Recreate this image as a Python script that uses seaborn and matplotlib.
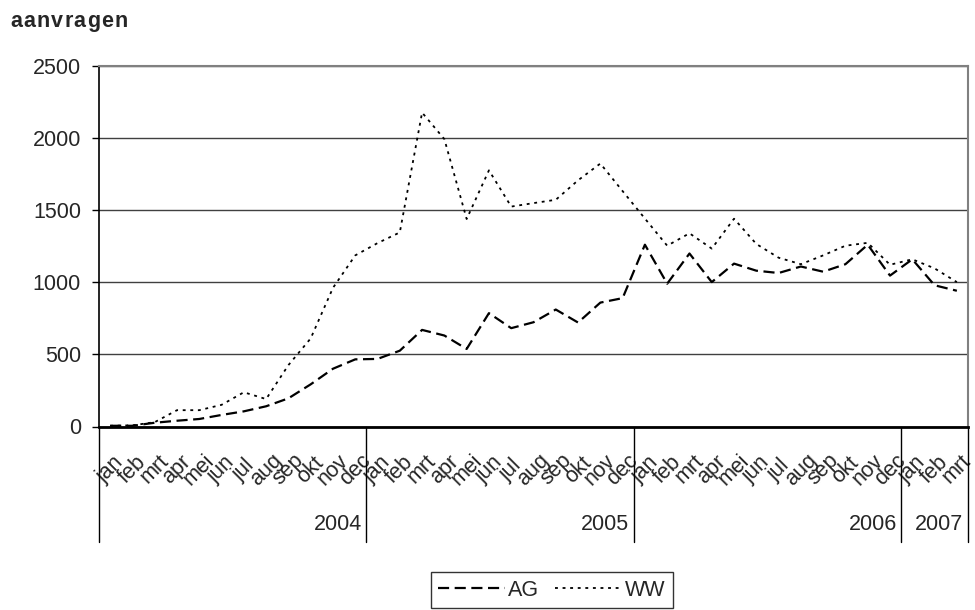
import matplotlib
matplotlib.use('Agg')
import matplotlib.pyplot as plt
import matplotlib.transforms as mtransforms
from matplotlib.lines import Line2D
from matplotlib.font_manager import FontProperties
import seaborn as sns
import pandas as pd
import numpy as np

# ---------------- data ----------------
months = ['jan', 'feb', 'mrt', 'apr', 'mei', 'jun', 'jul', 'aug', 'sep', 'okt', 'nov', 'dec']
month_labels = months * 3 + months[:3]
years = ['2004', '2005', '2006', '2007']
year_counts = [12, 12, 12, 3]

ag = [5, 5, 26, 40, 52, 80, 105, 140, 195, 292, 400, 465,
      468, 525, 669, 630, 537, 785, 681, 722, 810, 720, 858, 889,
      1259, 989, 1198, 1000, 1128, 1079, 1063, 1108, 1072, 1124, 1259, 1045,
      1158, 978, 940]
ww = [5, 8, 30, 113, 113, 150, 237, 190, 425, 610, 960, 1185,
      1270, 1344, 2174, 1990, 1437, 1774, 1523, 1547, 1570, 1705, 1821, 1630,
      1440, 1252, 1338, 1232, 1439, 1264, 1169, 1124, 1185, 1252, 1272, 1120,
      1158, 1095, 1000]
y_ticks = [0, 500, 1000, 1500, 2000, 2500]
title = 'aanvragen'
series_names = ['AG', 'WW']

# ---------------- style ----------------
sns.set_style('white')
plt.rcParams['font.family'] = ['Liberation Sans', 'DejaVu Sans']
FS = 15.5

W, H = 975, 610
fig = plt.figure(figsize=(W / 100, H / 100), dpi=100)
left, right, top, bottom = 99, 968, 65.5, 426.5
ax = fig.add_axes([left / W, 1 - bottom / H, (right - left) / W, (bottom - top) / H])

x = np.arange(len(month_labels))
df = pd.DataFrame({'x': x, 'AG': ag, 'WW': ww})

ag_style = (0, (5, 2.5))
ww_style = (0, (1.6, 2.6))
sns.lineplot(data=df, x='x', y='AG', ax=ax, color='black', lw=1.6,
             linestyle=ag_style, legend=False)
sns.lineplot(data=df, x='x', y='WW', ax=ax, color='black', lw=1.3,
             linestyle=ww_style, legend=False)

ax.set_xlim(-0.5, len(month_labels) - 0.5)
ax.set_ylim(0, 2500)
ax.set_xlabel('')
ax.set_ylabel('')

# y axis
ax.set_yticks(y_ticks)
ax.set_yticklabels([str(v) for v in y_ticks], fontsize=FS)
ax.tick_params(axis='y', left=True, length=5, width=1, pad=8, direction='out', color='black')
ax.yaxis.grid(True, color='#404040', lw=1)
ax.xaxis.grid(False)
ax.set_axisbelow(True)

# x axis
ax.set_xticks(x)
ax.set_xticklabels(month_labels, rotation=45, ha='center', va='center', fontsize=FS)
ax.tick_params(axis='x', bottom=False, length=0, pad=31)

ax.spines['left'].set_color('black'); ax.spines['left'].set_linewidth(1.2)
ax.spines['bottom'].set_color('black'); ax.spines['bottom'].set_linewidth(2)
for s in ['right', 'top']:
    ax.spines[s].set_color('#808080'); ax.spines[s].set_linewidth(1.5)

# year separators and labels
trans = mtransforms.blended_transform_factory(ax.transData, ax.transAxes)
sep_depth = (542 - bottom) / (bottom - top)
year_y = (525 - bottom) / (bottom - top)
bounds = np.concatenate([[0], np.cumsum(year_counts)]) - 0.5
for b in bounds:
    ax.plot([b, b], [0, -sep_depth], transform=trans, color='black', lw=1, clip_on=False)
for yr, b in zip(years, bounds[1:]):
    ax.text(b - 0.2, -year_y, yr, transform=trans, ha='right', va='center', fontsize=FS)

# title with slight letter spacing
renderer = fig.canvas.get_renderer()
fp = FontProperties(family=['Liberation Sans', 'DejaVu Sans'], weight='bold', size=FS)
x0, spacing = 10.0, 1.25
for i, ch in enumerate(title):
    w_prefix = renderer.get_text_width_height_descent(title[:i], fp, ismath=False)[0] if i else 0
    fig.text((x0 + w_prefix + i * spacing) / W, 1 - 26.7 / H, ch, fontproperties=fp,
             ha='left', va='baseline')

# legend
handles = [Line2D([], [], color='black', lw=1.6, linestyle=ag_style),
           Line2D([], [], color='black', lw=1.3, linestyle=ww_style)]
leg = fig.legend(handles, series_names, loc='center', bbox_to_anchor=(552 / W, 1 - 590 / H),
                 ncol=2, frameon=True, fancybox=False, edgecolor='black', fontsize=FS,
                 handlelength=3.1, handletextpad=0.15, columnspacing=0.75, borderpad=0.35,
                 borderaxespad=0)
leg.get_frame().set_linewidth(1)
leg.get_frame().set_facecolor('white')

fig.savefig('out.png', dpi=100, facecolor='white')
